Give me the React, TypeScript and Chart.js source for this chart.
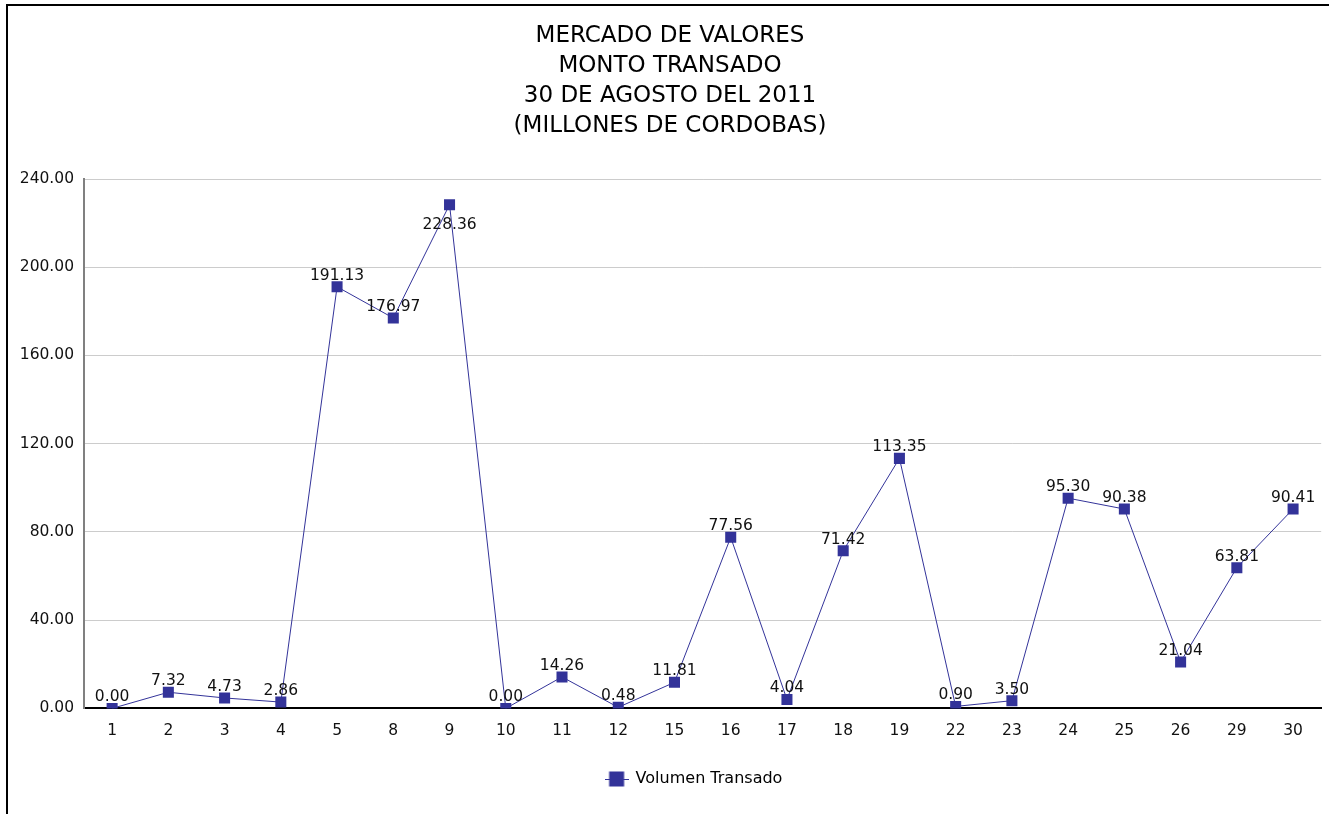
import React, { useEffect, useRef } from "react";
import { Chart, registerables } from "chart.js";

Chart.register(...registerables);

const TITLE_LINES = [
  "MERCADO DE VALORES",
  "MONTO TRANSADO",
  "30 DE AGOSTO DEL 2011",
  "(MILLONES DE CORDOBAS)",
];

const DAYS = [
  "1", "2", "3", "4", "5", "8", "9", "10", "11", "12", "15",
  "16", "17", "18", "19", "22", "23", "24", "25", "26", "29", "30",
];

const VOLUMEN = [
  0.0, 7.32, 4.73, 2.86, 191.13, 176.97, 228.36, 0.0, 14.26, 0.48, 11.81,
  77.56, 4.04, 71.42, 113.35, 0.9, 3.5, 95.3, 90.38, 21.04, 63.81, 90.41,
];

const SERIES_NAME = "Volumen Transado";
const Y_MIN = 0;
const Y_MAX = 240;
const Y_STEP = 40;

const FONT = "'DejaVu Sans', Verdana, sans-serif";
const MARK = "#333399";

const dataLabels = {
  id: "dataLabels",
  afterLayout(chart: any) {
    if (chart.legend) chart.legend.left += 66;
    if (chart.titleBlock) chart.titleBlock.left += 18;
  },
  afterDatasetsDraw(chart: any) {
    const { ctx, chartArea } = chart;
    const meta = chart.getDatasetMeta(0);
    const values = chart.data.datasets[0].data as number[];
    ctx.save();
    ctx.font = `15.5px ${FONT}`;
    ctx.fillStyle = "#111";
    ctx.textAlign = "center";
    ctx.textBaseline = "alphabetic";
    meta.data.forEach((pt: any, i: number) => {
      const txt = Number(values[i]).toFixed(2);
      let y = pt.y - 7;
      if (y - 16 < chartArea.top + 8) y = pt.y + 24;
      ctx.fillText(txt, pt.x, y);
    });
    ctx.restore();
  },
};

function legendIcon(): HTMLCanvasElement {
  const c = document.createElement("canvas");
  c.width = 24;
  c.height = 16;
  const g = c.getContext("2d")!;
  g.strokeStyle = MARK;
  g.lineWidth = 1;
  g.beginPath();
  g.moveTo(0, 8.5);
  g.lineTo(24, 8.5);
  g.stroke();
  g.fillStyle = MARK;
  g.fillRect(4.5, 0.5, 15, 15);
  return c;
}

export default function App() {
  const ref = useRef<HTMLCanvasElement | null>(null);

  useEffect(() => {
    if (!ref.current) return;
    const icon = legendIcon();
    const chart = new Chart(ref.current, {
      type: "line",
      data: {
        labels: DAYS,
        datasets: [
          {
            label: SERIES_NAME,
            data: VOLUMEN,
            borderColor: MARK,
            backgroundColor: MARK,
            borderWidth: 1,
            pointStyle: "rect",
            pointRadius: 7.8,
            pointBorderWidth: 0,
            tension: 0,
          },
        ],
      },
      options: {
        responsive: false,
        animation: false,
        events: [],
        layout: { padding: { left: 0, right: 7, top: 0, bottom: 17 } },
        plugins: {
          title: {
            display: true,
            text: TITLE_LINES,
            color: "#000",
            font: { family: FONT, size: 23, weight: "normal", lineHeight: 30 / 23 },
            padding: { top: 21, bottom: 38 },
          },
          legend: {
            position: "bottom",
            labels: {
              usePointStyle: true,
              pointStyleWidth: 22,
              padding: 18,
              color: "#111",
              font: { family: FONT, size: 16 },
              generateLabels: () => [
                {
                  text: SERIES_NAME,
                  pointStyle: icon,
                  fillStyle: MARK,
                  strokeStyle: MARK,
                  lineWidth: 0,
                  hidden: false,
                  datasetIndex: 0,
                },
              ],
            },
          },
          tooltip: { enabled: false },
        },
        scales: {
          x: {
            offset: true,
            grid: { display: false, drawTicks: false },
            border: { color: "#000", width: 2 },
            ticks: { color: "#111", font: { family: FONT, size: 15.5 }, padding: 13 },
          },
          y: {
            min: Y_MIN,
            max: Y_MAX,
            afterFit: (s: any) => {
              s.width = 84;
            },
            grid: { color: "#cccccc", drawTicks: false },
            border: { color: "#808080", width: 2 },
            ticks: {
              stepSize: Y_STEP,
              color: "#111",
              font: { family: FONT, size: 15.5 },
              padding: 10,
              callback: (v: any) => Number(v).toFixed(2),
            },
          },
        },
      },
      plugins: [dataLabels],
    });
    return () => chart.destroy();
  }, []);

  return (
    <div
      style={{
        position: "fixed",
        left: 0,
        top: 0,
        width: 1329,
        height: 814,
        background: "#fff",
      }}
    >
      <canvas
        ref={ref}
        width={1329}
        height={814}
        style={{ position: "absolute", left: 0, top: 0 }}
      />
      <div
        style={{
          position: "absolute",
          left: 6,
          top: 4,
          right: 0,
          bottom: 0,
          borderLeft: "2px solid #000",
          borderTop: "2px solid #000",
          pointerEvents: "none",
        }}
      />
    </div>
  );
}
